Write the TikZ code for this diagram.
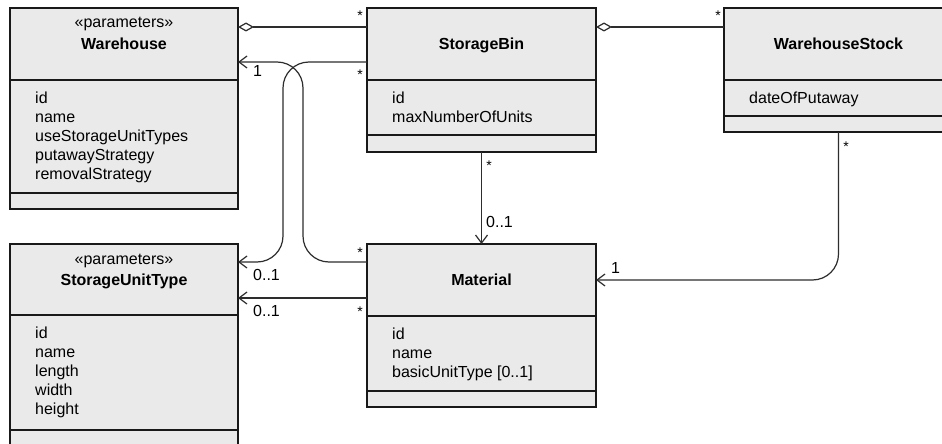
\documentclass[tikz,border=0pt]{standalone}
\usepackage{fontspec}
\setmainfont{Liberation Sans}
\usetikzlibrary{arrows.meta}
\definecolor{boxfill}{RGB}{234,234,234}
\definecolor{boxline}{RGB}{25,25,25}
\definecolor{connline}{RGB}{45,45,45}
\begin{document}
\begin{tikzpicture}[x=1pt,y=-1pt,
  classbox/.style={draw=boxline, fill=boxfill, line width=1.5pt, rectangle, inner sep=0pt, outer sep=0pt, anchor=north west},
  compline/.style={draw=boxline, line width=1.3pt},
  txt/.style={font=\fontsize{16}{19.2}\selectfont, inner sep=0pt, anchor=base},
  attr/.style={font=\fontsize{16}{19.2}\selectfont, inner sep=0pt, anchor=base west},
  cname/.style={font=\fontsize{16}{19.2}\selectfont\bfseries, inner sep=0pt, anchor=base},
  mult/.style={font=\fontsize{16}{19.2}\selectfont, inner sep=0pt, anchor=base west},
  star/.style={font=\fontsize{14}{16}\selectfont, inner sep=0pt, anchor=base},
  conn/.style={draw=connline, line width=1.2pt},
  agg/.style={conn, {Diamond[open, length=16pt, width=9pt]}-},
  nav/.style={conn, -{Straight Barb[length=8pt, width=12pt]}},
]
\useasboundingbox (0,0) rectangle (942,444);
\fill[white] (0,0) rectangle (942,444);

% ---------- Warehouse ----------
\node[classbox, minimum width=228pt, minimum height=201pt] (wh) at (10,8) {};
\draw[compline] (10,80) -- (238,80);
\draw[compline] (10,193) -- (238,193);
\node[txt] (whst) at (124,28) {«parameters»};
\node[cname] (whname) at (124,49) {Warehouse};
\foreach \t [count=\i from 0] in {id,name,useStorageUnitTypes,putawayStrategy,removalStrategy}
  \node[attr] (wha\i) at (35,{103+19.2*\i}) {\t};

% ---------- StorageBin ----------
\node[classbox, minimum width=229pt, minimum height=144pt] (sb) at (367,8) {};
\draw[compline] (367,80) -- (596,80);
\draw[compline] (367,135) -- (596,135);
\node[cname] (sbname) at (481.5,49) {StorageBin};
\foreach \t [count=\i from 0] in {id,maxNumberOfUnits}
  \node[attr] (sba\i) at (392,{103+19.2*\i}) {\t};

% ---------- WarehouseStock ----------
\node[classbox, minimum width=229pt, minimum height=124pt] (ws) at (724,8) {};
\draw[compline] (724,80) -- (953,80);
\draw[compline] (724,116) -- (953,116);
\node[cname] (wsname) at (838.5,49) {WarehouseStock};
\node[attr] (wsa0) at (749,103) {dateOfPutaway};

% ---------- StorageUnitType ----------
\node[classbox, minimum width=228pt, minimum height=216pt] (sut) at (10,244) {};
\draw[compline] (10,315) -- (238,315);
\draw[compline] (10,430) -- (238,430);
\node[txt] (sutst) at (124,264) {«parameters»};
\node[cname] (sutname) at (124,285) {StorageUnitType};
\foreach \t [count=\i from 0] in {id,name,length,width,height}
  \node[attr] (suta\i) at (35,{338+19.2*\i}) {\t};

% ---------- Material ----------
\node[classbox, minimum width=229pt, minimum height=163pt] (mat) at (367,244) {};
\draw[compline] (367,316) -- (596,316);
\draw[compline] (367,391) -- (596,391);
\node[cname] (matname) at (481.5,285) {Material};
\foreach \t [count=\i from 0] in {id,name,{basicUnitType [0..1]}}
  \node[attr] (mata\i) at (392,{339+19.2*\i}) {\t};

% ---------- connectors ----------
\draw[agg] ([yshift=-19pt]wh.north east) -- ([yshift=-19pt]sb.north west);
\draw[agg] ([yshift=-19pt]sb.north east) -- ([yshift=-19pt]ws.north west);
\draw[nav, rounded corners=26pt] ([yshift=-54pt]sb.north west) -- ++(-84,0) |- ([yshift=-18pt]sut.north east);
\draw[nav, rounded corners=26pt] ([yshift=-18pt]mat.north west) -- ++(-64,0) |- ([yshift=-54pt]wh.north east);
\draw[nav] ([yshift=-54pt]mat.north west) -- ([yshift=-54pt]sut.north east);
\draw[nav] (sb.south) -- (mat.north);
\draw[nav, rounded corners=26pt] (ws.south) |- ([yshift=-36pt]mat.north east);

% ---------- multiplicities ----------
\node[star] (m1) at (360,21) {*};
\node[star] (m2) at (718,21) {*};
\node[star] (m3) at (360,79) {*};
\node[mult] (m4) at (253,77) {1};
\node[star] (m5) at (360,257) {*};
\node[mult] (m6) at (253,280) {0..1};
\node[star] (m7) at (360,316) {*};
\node[mult] (m8) at (253,316) {0..1};
\node[star] (m9) at (489,170) {*};
\node[mult] (m10) at (486,227) {0..1};
\node[star] (m11) at (846,151) {*};
\node[mult] (m12) at (611,273) {1};
\end{tikzpicture}
\end{document}
